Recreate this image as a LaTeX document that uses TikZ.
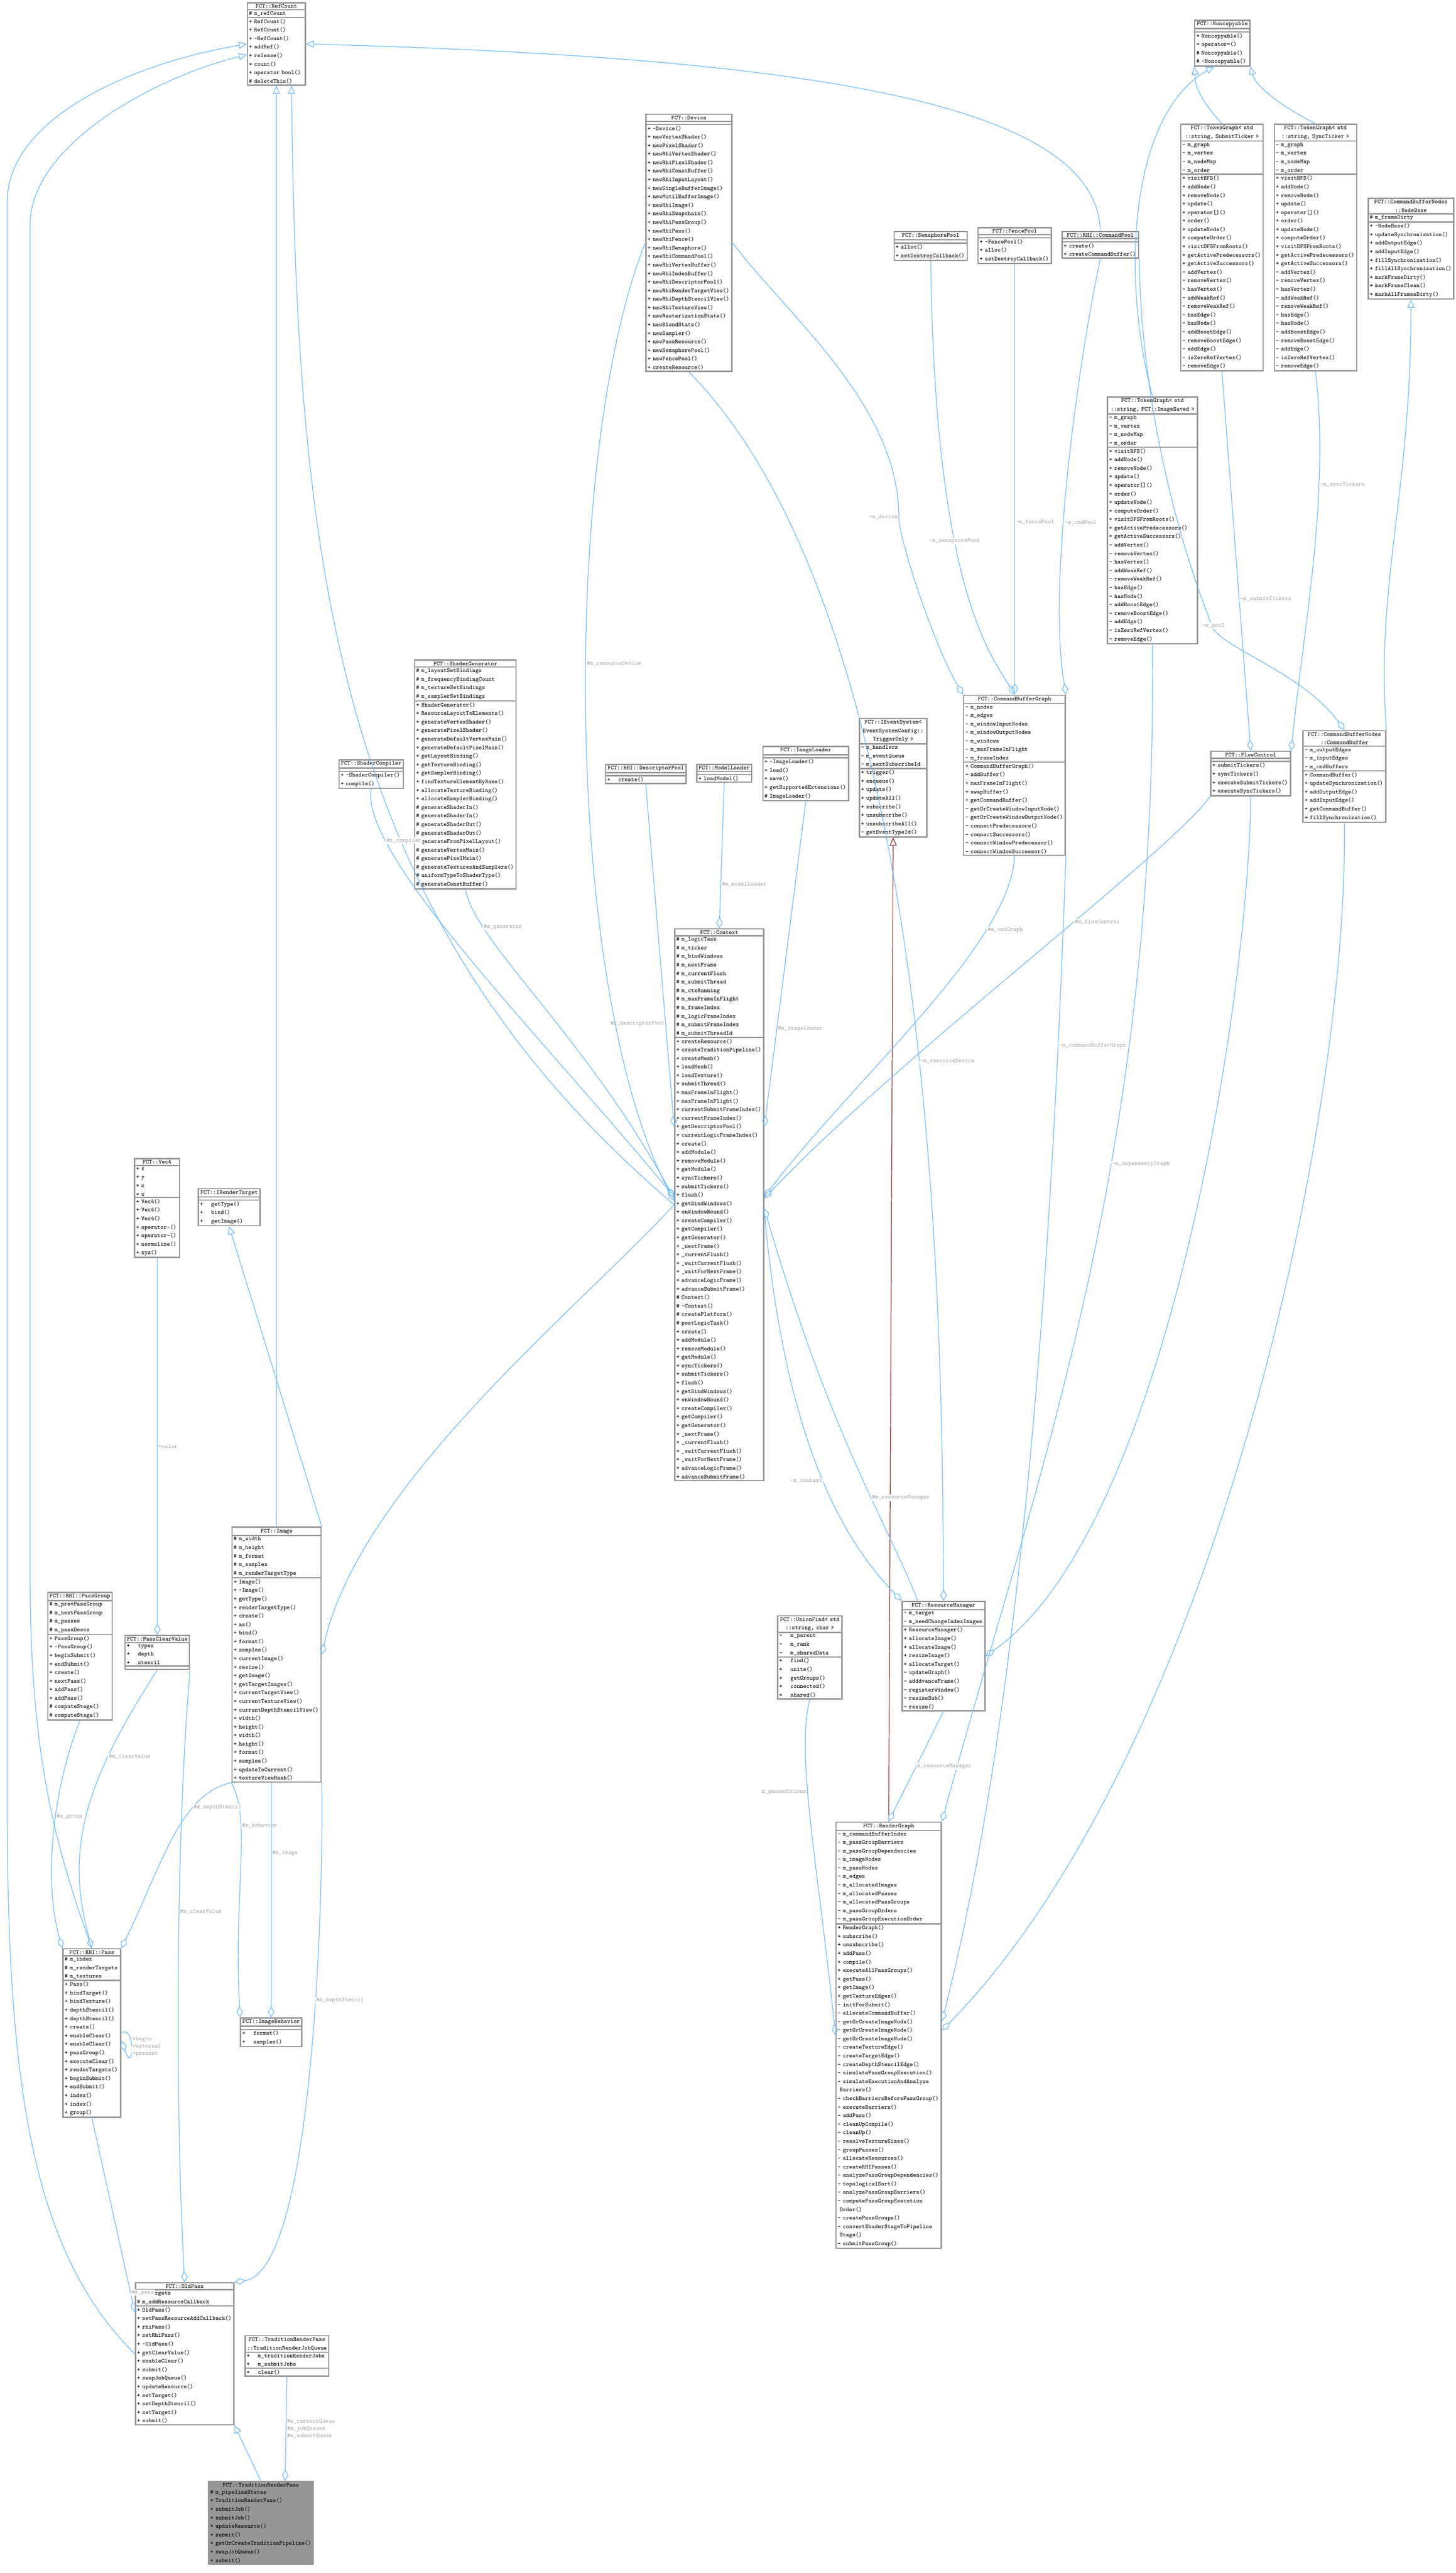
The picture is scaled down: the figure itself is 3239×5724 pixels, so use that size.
\documentclass[tikz,border=0pt]{standalone}
\usetikzlibrary{shapes.multipart,arrows.meta}

\definecolor{edgeblue}{RGB}{99,184,255}
\definecolor{edgered}{RGB}{139,26,26}
\definecolor{boxgray}{RGB}{150,150,150}
\newcommand{\tl}{\textasciitilde}
\newcommand{\ttl}[1]{\makebox[\linewidth][c]{#1}}

\begin{document}
\begin{tikzpicture}[x=0.01cm,y=-0.01cm,
  cls/.style={rectangle split,rectangle split parts=3,draw=boxgray,thick,fill=white,
    anchor=north west,inner xsep=1pt,inner ysep=0.6pt,align=left,
    font=\fontsize{3.8}{5.4}\selectfont\ttfamily,
    /utils/exec={\pgfmathsetlengthmacro\clsw{#1*0.2845pt-2pt}},text width=\clsw},
  inh/.style={draw=edgeblue,-{Triangle[open,length=5pt,width=4.5pt]}},
  comp/.style={draw=edgeblue,{Diamond[open,length=7pt,width=4pt]}-},
  lbl/.style={font=\fontsize{3.8}{4.6}\selectfont\ttfamily,text=gray!70,fill=white,inner sep=0.5pt,align=left}]

  \useasboundingbox (0,0) rectangle (3239,5724);

  % upper row
  \node[cls=129] (refcount) at (549,5) {\ttl{FCT::RefCount}
    \nodepart{two}\# m\_refCount
    \nodepart{three}+ RefCount()\\+ RefCount()\\+ \tl RefCount()\\+ addRef()\\+ release()\\+ count()\\+ operator bool()\\\# deleteThis()};
  \node[cls=123] (noncopy) at (2657,44) {\ttl{FCT::Noncopyable}
    \nodepart{two}\mbox{}
    \nodepart{three}+ Noncopyable()\\+ operator=()\\\# Noncopyable()\\\# \tl Noncopyable()};
  \node[cls=191] (device) at (1436,253) {\ttl{FCT::Device}
    \nodepart{two}\mbox{}
    \nodepart{three}+ \tl Device()\\+ newVertexShader()\\+ newPixelShader()\\+ newRhiVertexShader()\\+ newRhiPixelShader()\\+ newRhiConstBuffer()\\+ newRhiInputLayout()\\+ newSingleBufferImage()\\+ newMutilBufferImage()\\+ newRhiImage()\\+ newRhiSwapchain()\\+ newRhiPassGroup()\\+ newRhiPass()\\+ newRhiFence()\\+ newRhiSemaphore()\\+ newRhiCommandPool()\\+ newRhiVertexBuffer()\\+ newRhiIndexBuffer()\\+ newRhiDescriptorPool()\\+ newRhiRenderTargetView()\\+ newRhiDepthStencilView()\\+ newRhiTextureView()\\+ newRasterizationState()\\+ newBlendState()\\+ newSampler()\\+ newPassResource()\\+ newSemaphorePool()\\+ newFencePool()\\+ createResource()};
  \node[cls=183] (tgsubmit) at (2626,275) {\ttl{FCT::TokenGraph< std}\\\ttl{::string, SubmitTicker >}
    \nodepart{two}- m\_graph\\- m\_vertex\\- m\_nodeMap\\- m\_order
    \nodepart{three}+ visitBFS()\\+ addNode()\\+ removeNode()\\+ update()\\+ operator[]()\\+ order()\\+ updateNode()\\+ computeOrder()\\+ visitDFSFromRoots()\\+ getActivePredecessors()\\+ getActiveSuccessors()\\- addVertex()\\- removeVertex()\\- hasVertex()\\- addWeakRef()\\- removeWeakRef()\\- hasEdge()\\- hasNode()\\- addBoostEdge()\\- removeBoostEdge()\\- addEdge()\\- isZeroRefVertex()\\- removeEdge()};
  \node[cls=183] (tgsync) at (2834,275) {\ttl{FCT::TokenGraph< std}\\\ttl{::string, SyncTicker >}
    \nodepart{two}- m\_graph\\- m\_vertex\\- m\_nodeMap\\- m\_order
    \nodepart{three}+ visitBFS()\\+ addNode()\\+ removeNode()\\+ update()\\+ operator[]()\\+ order()\\+ updateNode()\\+ computeOrder()\\+ visitDFSFromRoots()\\+ getActivePredecessors()\\+ getActiveSuccessors()\\- addVertex()\\- removeVertex()\\- hasVertex()\\- addWeakRef()\\- removeWeakRef()\\- hasEdge()\\- hasNode()\\- addBoostEdge()\\- removeBoostEdge()\\- addEdge()\\- isZeroRefVertex()\\- removeEdge()};
  \node[cls=190] (nodebase) at (3043,440) {\ttl{FCT::CommandBufferNodes}\\\ttl{::NodeBase}
    \nodepart{two}\# m\_frameDirty
    \nodepart{three}+ \tl NodeBase()\\+ updateSynchronization()\\+ addOutputEdge()\\+ addInputEdge()\\+ fillSynchronization()\\+ fillAllSynchronization()\\+ markFrameDirty()\\+ markFrameClean()\\+ markAllFramesDirty()};
  \node[cls=163] (sempool) at (1988,514) {\ttl{FCT::SemaphorePool}
    \nodepart{two}\mbox{}
    \nodepart{three}+ alloc()\\+ setDestroyCallback()};
  \node[cls=163] (fencepool) at (2175,505) {\ttl{FCT::FencePool}
    \nodepart{two}\mbox{}
    \nodepart{three}+ \tl FencePool()\\+ alloc()\\+ setDestroyCallback()};
  \node[cls=170] (cmdpool) at (2362,514) {\ttl{FCT::RHI::CommandPool}
    \nodepart{two}\mbox{}
    \nodepart{three}+ create()\\+ createCommandBuffer()};
  \node[cls=200] (tgimage) at (2463,882) {\ttl{FCT::TokenGraph< std}\\\ttl{::string, FCT::ImageSaved >}
    \nodepart{two}- m\_graph\\- m\_vertex\\- m\_nodeMap\\- m\_order
    \nodepart{three}+ visitBFS()\\+ addNode()\\+ removeNode()\\+ update()\\+ operator[]()\\+ order()\\+ updateNode()\\+ computeOrder()\\+ visitDFSFromRoots()\\+ getActivePredecessors()\\+ getActiveSuccessors()\\- addVertex()\\- removeVertex()\\- hasVertex()\\- addWeakRef()\\- removeWeakRef()\\- hasEdge()\\- hasNode()\\- addBoostEdge()\\- removeBoostEdge()\\- addEdge()\\- isZeroRefVertex()\\- removeEdge()};

  % middle row
  \node[cls=226] (shadergen) at (921,1467) {\ttl{FCT::ShaderGenerator}
    \nodepart{two}\# m\_layoutSetBindings\\\# m\_frequencyBindingCount\\\# m\_textureSetBindings\\\# m\_samplerSetBindings
    \nodepart{three}+ ShaderGenerator()\\+ ResourceLayoutToElements()\\+ generateVertexShader()\\+ generatePixelShader()\\+ generateDefaultVertexMain()\\+ generateDefaultPixelMain()\\+ getLayoutBinding()\\+ getTextureBinding()\\+ getSamplerBinding()\\+ findTextureElementByName()\\+ allocateTextureBinding()\\+ allocateSamplerBinding()\\\# generateShaderIn()\\\# generateShaderIn()\\\# generateShaderOut()\\\# generateShaderOut()\\\# generateFromPixelLayout()\\\# generateVertexMain()\\\# generatePixelMain()\\\# generateTexturesAndSamplers()\\\# uniformTypeToShaderType()\\\# generateConstBuffer()};
  \node[cls=143] (shadercomp) at (753,1689) {\ttl{FCT::ShaderCompiler}
    \nodepart{two}\mbox{}
    \nodepart{three}+ \tl ShaderCompiler()\\+ compile()};
  \node[cls=179] (descpool) at (1346,1699) {\ttl{FCT::RHI::DescriptorPool}
    \nodepart{two}\mbox{}
    \nodepart{three}+ \quad create()};
  \node[cls=122] (modelload) at (1549,1699) {\ttl{FCT::ModelLoader}
    \nodepart{two}\mbox{}
    \nodepart{three}+ loadModel()};
  \node[cls=191] (imageload) at (1696,1659) {\ttl{FCT::ImageLoader}
    \nodepart{two}\mbox{}
    \nodepart{three}+ \tl ImageLoader()\\+ load()\\+ save()\\+ getSupportedExtensions()\\\# ImageLoader()};
  \node[cls=150] (eventsys) at (1911,1597) {\ttl{FCT::IEventSystem<}\\\ttl{EventSystemConfig::}\\\ttl{TriggerOnly >}
    \nodepart{two}- m\_handlers\\- m\_eventQueue\\- m\_nextSubscribeId
    \nodepart{three}+ trigger()\\+ enqueue()\\+ update()\\+ updateAll()\\+ subscribe()\\+ unsubscribe()\\+ unsubscribeAll()\\- getEventTypeId()};
  \node[cls=226] (cbgraph) at (2143,1545) {\ttl{FCT::CommandBufferGraph}
    \nodepart{two}- m\_nodes\\- m\_edges\\- m\_windowInputNodes\\- m\_windowOutputNodes\\- m\_windows\\- m\_maxFrameInFlight\\- m\_frameIndex
    \nodepart{three}+ CommandBufferGraph()\\+ addBuffer()\\+ maxFrameInFlight()\\+ swapBuffer()\\+ getCommandBuffer()\\- getOrCreateWindowInputNode()\\- getOrCreateWindowOutputNode()\\- connectPredecessors()\\- connectSuccessors()\\- connectWindowPredecessor()\\- connectWindowSuccessor()};
  \node[cls=177] (flowctl) at (2693,1670) {\ttl{FCT::FlowControl}
    \nodepart{two}\mbox{}
    \nodepart{three}+ submitTickers()\\+ syncTickers()\\+ executeSubmitTickers()\\+ executeSyncTickers()};
  \node[cls=184] (cmdbuf) at (2898,1624) {\ttl{FCT::CommandBufferNodes}\\\ttl{::CommandBuffer}
    \nodepart{two}- m\_outputEdges\\- m\_inputEdges\\- m\_cmdBuffers
    \nodepart{three}+ CommandBuffer()\\+ updateSynchronization()\\+ addOutputEdge()\\+ addInputEdge()\\+ getCommandBuffer()\\+ fillSynchronization()};
  \node[cls=198] (context) at (1500,2065) {\ttl{FCT::Context}
    \nodepart{two}\# m\_logicTask\\\# m\_ticker\\\# m\_bindWindows\\\# m\_nextFrame\\\# m\_currentFlush\\\# m\_submitThread\\\# m\_ctxRunning\\\# m\_maxFrameInFlight\\\# m\_frameIndex\\\# m\_logicFrameIndex\\\# m\_submitFrameIndex\\\# m\_submitThreadId
    \nodepart{three}+ createResource()\\+ createTraditionPipeline()\\+ createMesh()\\+ loadMesh()\\+ loadTexture()\\+ submitThread()\\+ maxFrameInFlight()\\+ maxFrameInFlight()\\+ currentSubmitFrameIndex()\\+ currentFrameIndex()\\+ getDescriptorPool()\\+ currentLogicFrameIndex()\\+ create()\\+ addModule()\\+ removeModule()\\+ getModule()\\+ syncTickers()\\+ submitTickers()\\+ flush()\\+ getBindWindows()\\+ onWindowBound()\\+ createCompiler()\\+ getCompiler()\\+ getGenerator()\\+ \_nextFrame()\\+ \_currentFlush()\\+ \_waitCurrentFlush()\\+ \_waitForNextFrame()\\+ advanceLogicFrame()\\+ advanceSubmitFrame()\\\# Context()\\\# \tl Context()\\\# createPlatform()\\\# postLogicTask()\\+ create()\\+ addModule()\\+ removeModule()\\+ getModule()\\+ syncTickers()\\+ submitTickers()\\+ flush()\\+ getBindWindows()\\+ onWindowBound()\\+ createCompiler()\\+ getCompiler()\\+ getGenerator()\\+ \_nextFrame()\\+ \_currentFlush()\\+ \_waitCurrentFlush()\\+ \_waitForNextFrame()\\+ advanceLogicFrame()\\+ advanceSubmitFrame()};

  % lower left
  \node[cls=100] (vecfour) at (298,2576) {\ttl{FCT::Vec4}
    \nodepart{two}+ x\\+ y\\+ z\\+ w
    \nodepart{three}+ Vec4()\\+ Vec4()\\+ Vec4()\\+ operator-()\\+ operator-()\\+ normalize()\\+ xyz()};
  \node[cls=137] (rendertarget) at (440,2643) {\ttl{FCT::IRenderTarget}
    \nodepart{two}\mbox{}
    \nodepart{three}+ \quad getType()\\+ \quad bind()\\+ \quad getImage()};
  \node[cls=198] (image) at (515,3396) {\ttl{FCT::Image}
    \nodepart{two}\# m\_width\\\# m\_height\\\# m\_format\\\# m\_samples\\\# m\_renderTargetType
    \nodepart{three}+ Image()\\+ \tl Image()\\+ getType()\\+ renderTargetType()\\+ create()\\+ as()\\+ bind()\\+ format()\\+ samples()\\+ currentImage()\\+ resize()\\+ getImage()\\+ getTargetImages()\\+ currentTargetView()\\+ currentTextureView()\\+ currentDepthStencilView()\\+ width()\\+ height()\\+ width()\\+ height()\\+ format()\\+ samples()\\+ updateToCurrent()\\+ textureViewHash()};
  \node[cls=143] (passgroup) at (105,3541) {\ttl{FCT::RHI::PassGroup}
    \nodepart{two}\# m\_prevPassGroup\\\# m\_nextPassGroup\\\# m\_passes\\\# m\_passDescs
    \nodepart{three}+ PassGroup()\\+ \tl PassGroup()\\+ beginSubmit()\\+ endSubmit()\\+ create()\\+ nextPass()\\+ addPass()\\+ addPass()\\\# computeStage()\\\# computeStage()};
  \node[cls=143] (clearval) at (277,3637) {\ttl{FCT::PassClearValue}
    \nodepart{two}+ \quad types\\+ \quad depth\\+ \quad stencil
    \nodepart{three}\mbox{}};
  \node[cls=128] (rhipass) at (139,4334) {\ttl{FCT::RHI::Pass}
    \nodepart{two}\# m\_index\\\# m\_renderTargets\\\# m\_textures
    \nodepart{three}+ Pass()\\+ bindTarget()\\+ bindTexture()\\+ depthStencil()\\+ depthStencil()\\+ create()\\+ enableClear()\\+ enableClear()\\+ passGroup()\\+ executeClear()\\+ renderTargets()\\+ beginSubmit()\\+ endSubmit()\\+ index()\\+ index()\\+ group()};
  \node[cls=136] (imgbehav) at (534,4488) {\ttl{FCT::ImageBehavior}
    \nodepart{two}\mbox{}
    \nodepart{three}+ \quad format()\\+ \quad samples()};
  \node[cls=219] (oldpass) at (300,5077) {\ttl{FCT::OldPass}
    \nodepart{two}\# m\_targets\\\# m\_addResourceCallback
    \nodepart{three}+ OldPass()\\+ setPassResourceAddCallback()\\+ rhiPass()\\+ setRhiPass()\\+ \tl OldPass()\\+ getClearValue()\\+ enableClear()\\+ submit()\\+ swapJobQueue()\\+ updateResource()\\+ setTarget()\\+ setDepthStencil()\\+ setTarget()\\+ submit()};
  \node[cls=186] (jobqueue) at (544,5195) {\ttl{FCT::TraditionRenderPass}\\\ttl{::TraditionRenderJobQueue}
    \nodepart{two}+ \quad m\_traditionRenderJobs\\+ \quad m\_submitJobs
    \nodepart{three}+ \quad clear()};
  \node[cls=232,fill=boxgray] (tradpass) at (463,5519) {\ttl{FCT::TraditionRenderPass}
    \nodepart{two}\# m\_pipelineStates
    \nodepart{three}+ TraditionRenderPass()\\+ submitJob()\\+ submitJob()\\+ updateResource()\\+ submit()\\+ getOrCreateTraditionPipeline()\\+ swapJobQueue()\\+ submit()};

  % lower right
  \node[cls=143] (unionfind) at (1729,3593) {\ttl{FCT::UnionFind< std}\\\ttl{::string, char >}
    \nodepart{two}- \quad m\_parent\\- \quad m\_rank\\- \quad m\_sharedData
    \nodepart{three}+ \quad find()\\+ \quad unite()\\+ \quad getGroups()\\+ \quad connected()\\+ \quad shared()};
  \node[cls=184] (resmgr) at (2006,3561) {\ttl{FCT::ResourceManager}
    \nodepart{two}- m\_target\\- m\_needChangeIndexImages
    \nodepart{three}+ ResourceManager()\\+ allocateImage()\\+ allocateImage()\\+ resizeImage()\\+ allocateTarget()\\- updateGraph()\\- adddvanceFrame()\\- registerWindow()\\- resizeSub()\\- resize()};
  \node[cls=234] (rendergraph) at (1859,4052) {\ttl{FCT::RenderGraph}
    \nodepart{two}- m\_commandBufferIndex\\- m\_passGroupBarriers\\- m\_passGroupDependencies\\- m\_imageNodes\\- m\_passNodes\\- m\_edges\\- m\_allocatedImages\\- m\_allocatedPasses\\- m\_allocatedPassGroups\\- m\_passGroupOrders\\- m\_passGroupExecutionOrder
    \nodepart{three}+ RenderGraph()\\+ subscribe()\\+ unsubscribe()\\+ addPass()\\+ compile()\\+ executeAllPassGroups()\\+ getPass()\\+ getImage()\\+ getTextureEdges()\\- initForSubmit()\\- allocateCommandBuffer()\\- getOrCreateImageNode()\\- getOrCreateImageNode()\\- getOrCreateImageNode()\\- createTextureEdge()\\- createTargetEdge()\\- createDepthStencilEdge()\\- simulatePassGroupExecution()\\- simulateExecutionAndAnalyze\\ \ Barriers()\\- checkBarriersBeforePassGroup()\\- executeBarriers()\\- addPass()\\- cleanUpCompile()\\- cleanUp()\\- resolveTextureSizes()\\- groupPasses()\\- allocateResources()\\- createRHIPasses()\\- analyzePassGroupDependencies()\\- topologicalSort()\\- analyzePassGroupBarriers()\\- computePassGroupExecution\\ \ Order()\\- createPassGroups()\\- convertShaderStageToPipeline\\ \ Stage()\\- submitPassGroup()};

  % inheritance
  \draw[inh] (image.north) -- (refcount.south);
  \draw[inh] (context.west) .. controls (760,2050) and (660,1300) .. (refcount.290);
  \draw[inh] (cmdpool.north) .. controls (2440,250) and (1900,130) .. (refcount.east);
  \draw[inh] (oldpass.west) .. controls (60,5000) and (16,4600) .. (16,4000)
    -- (16,450) .. controls (16,260) and (300,140) .. (refcount.west);
  \draw[inh] (rhipass.north) .. controls (120,4100) and (67,3900) .. (67,3500)
    -- (67,500) .. controls (67,320) and (350,170) .. (refcount.200);
  \draw[inh] (tgsubmit.north) .. controls (2650,200) and (2660,170) .. (noncopy.south west);
  \draw[inh] (tgsync.north) .. controls (2820,220) and (2790,180) .. (noncopy.south east);
  \draw[inh] (tgimage.north) .. controls (2490,600) and (2520,250) .. (noncopy.250);
  \draw[inh] (cmdbuf.north east) .. controls (3060,1300) and (3140,1100) .. (nodebase.south);
  \draw[inh] (image.north east) -- (rendertarget.south);
  \draw[inh] (tradpass.north) -- (oldpass.south east);
  \draw[edgered,-{Triangle[open,length=5pt,width=4.5pt]}] (rendergraph.north) -- (eventsys.south);

  % composition
  \draw[comp] (cbgraph.north west) .. controls (2080,1440) and (2000,1200) .. (2000,1150)
    node[lbl,left] {-m\_device} .. controls (2000,900) and (1750,700) .. (device.east);
  \draw[comp] (cbgraph.north) .. controls (2200,1450) and (2080,1300) .. (sempool.south)
    node[lbl,pos=0.6] {-m\_semaphorePool};
  \draw[comp] (fencepool.south |- cbgraph.north) -- (fencepool.south)
    node[lbl,pos=0.4,right] {-m\_fencePool};
  \draw[comp] (cbgraph.north east) .. controls (2330,1300) and (2400,800) .. (cmdpool.south)
    node[lbl,pos=0.4,right] {-m\_cmdPool};
  \draw[comp] (cmdbuf.north) .. controls (2900,1500) and (2740,1450) .. (2700,1400)
    node[lbl,above] {-m\_pool} .. controls (2620,1200) and (2540,900) .. (cmdpool.south east);
  \draw[comp] (flowctl.north) -- (tgsubmit.south) node[lbl,pos=0.4,right] {-m\_submitTickers};
  \draw[comp] (flowctl.north east) .. controls (2900,1400) and (2960,1100) .. (tgsync.south)
    node[lbl,pos=0.7,right] {-m\_syncTickers};
  \draw[comp] (context.120) -- (descpool.south) node[lbl,pos=0.3,left] {\#m\_descriptorPool};
  \draw[comp] (context.north) -- (modelload.south) node[lbl,pos=0.3,right] {\#m\_modelLoader};
  \draw[comp] (context.60) -- (imageload.south) node[lbl,pos=0.3,right] {\#m\_imageLoader};
  \draw[comp] (context.170) .. controls (1200,2300) and (800,1900) .. (shadercomp.south)
    node[lbl,pos=0.8,right] {\#m\_compiler};
  \draw[comp] (context.172) .. controls (1300,2300) and (1060,2100) .. (shadergen.south)
    node[lbl,pos=0.8,right] {\#m\_generator};
  \draw[comp] (context.175) .. controls (1250,2200) and (1250,1000) .. (device.west)
    node[lbl,pos=0.55,right] {\#m\_resourceDevice};
  \draw[comp] (context.10) .. controls (1900,2400) and (2250,2100) .. (cbgraph.south)
    node[lbl,pos=0.75,right] {\#m\_cmdGraph};
  \draw[comp] (context.8) .. controls (2000,2350) and (2600,1900) .. (flowctl.south west)
    node[lbl,pos=0.6,right] {\#m\_flowControl};
  \draw[comp] (rendergraph.north east) .. controls (2300,3300) and (2575,2600) .. (tgimage.south)
    node[lbl,pos=0.62,right] {-m\_dependencyGraph};
  \draw[comp] (resmgr.north) .. controls (2096,3000) and (2096,1400) .. (device.south)
    node[lbl,pos=0.45,right] {-m\_resourceDevice};
  \draw[comp] (rendergraph.north) ++(0,0) -- (resmgr.south) node[lbl,pos=0.5,right] {m\_resourceManager};
  \draw[comp] (rendergraph.west) .. controls (1820,4150) and (1770,3900) .. (unionfind.south)
    node[lbl,pos=0.6,left] {m\_passesUnions};
  \draw[comp] (resmgr.north west) .. controls (1900,3450) and (1750,3250) .. (context.-10)
    node[lbl,pos=0.5,left] {-m\_context};
  \draw[comp] (context.-5) .. controls (1850,3200) and (1980,3400) .. (resmgr.115)
    node[lbl,pos=0.6,right] {\#m\_resourceManager};
  \draw[comp] (rendergraph.15) .. controls (2300,3700) and (2350,2500) .. (cbgraph.south east)
    node[lbl,pos=0.8,right] {-m\_commandBufferGraph};
  \draw[comp] (resmgr.east) .. controls (2600,3400) and (2780,2200) .. (flowctl.south);
  \draw[comp] (rendergraph.5) .. controls (2700,3900) and (3000,2500) .. (cmdbuf.south);
  \draw[comp] (imgbehav.north west) .. controls (520,4200) and (560,4050) .. (image.south west)
    node[lbl,pos=0.7,right] {\#m\_behavior};
  \draw[comp] (imgbehav.north) -- (imgbehav.north |- image.south) node[lbl,pos=0.7,right] {\#m\_image};
  \draw[comp] (rhipass.north west) .. controls (100,4200) and (110,4000) .. (passgroup.south)
    node[lbl,pos=0.6,right] {\#m\_group};
  \draw[comp] (rhipass.north) .. controls (140,4100) and (200,3950) .. (clearval.south)
    node[lbl,pos=0.7,right] {\#m\_clearValue};
  \draw[comp] (rhipass.north east) .. controls (360,4150) and (400,3990) .. (image.south west)
    node[lbl,pos=0.7,right] {\#m\_depthStencil};
  \draw[comp] (rhipass.-15) .. controls (300,4620) and (300,4500) .. (rhipass.east)
    node[lbl,pos=0.5,right] {+begin\\+external\\+present};
  \draw[comp] (clearval.north) -- (clearval.north |- vecfour.south) node[lbl,pos=0.5,right] {+color};
  \draw[comp] (oldpass.140) -- (rhipass.south) node[lbl,pos=0.1,right] {\#m\_pass};
  \draw[comp] (oldpass.north) .. controls (390,4700) and (390,4100) .. (clearval.south east)
    node[lbl,pos=0.6,right] {\#m\_clearValue};
  \draw[comp] (oldpass.north east) .. controls (700,5050) and (720,4200) .. (image.south east)
    node[lbl,pos=0.6,right] {\#m\_depthStencil};
  \draw[comp] (tradpass.60) -- (jobqueue.south) node[lbl,pos=0.5,right] {\#m\_currentQueue\\\#m\_jobQueues\\\#m\_submitQueue};
  \draw[comp] (image.east) .. controls (800,3300) and (1300,2900) .. (context.west);
\end{tikzpicture}
\end{document}
